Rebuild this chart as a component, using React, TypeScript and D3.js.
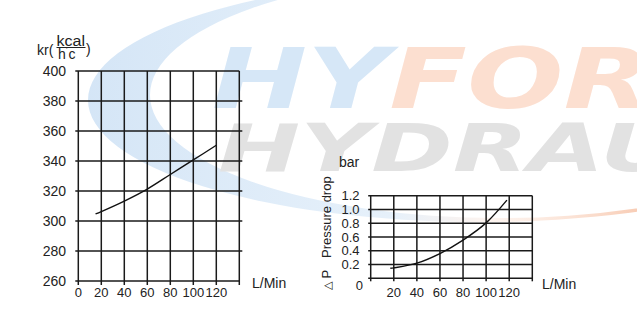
import React from "react";
import * as d3 from "d3";

// Left chart: heat dissipation coefficient kr vs flow
const krFlow = [15, 20, 40, 60, 80, 100, 120];
const krValue = [304.7, 306.3, 313.3, 321.3, 331, 340.7, 350.5];
const krXTicks = [0, 20, 40, 60, 80, 100, 120, 140];
const krXLabels = ["0", "20", "40", "60", "80", "100", "120"];
const krYTicks = [260, 280, 300, 320, 340, 360, 380, 400];

// Right chart: pressure drop vs flow
const dpFlow = [17, 20, 40, 60, 80, 100, 118];
const dpValue = [0.145, 0.152, 0.22, 0.36, 0.555, 0.805, 1.135];
const dpXTicks = [0, 20, 40, 60, 80, 100, 120, 140];
const dpXLabels = ["20", "40", "60", "80", "100", "120"];
const dpYTicks = [0, 0.2, 0.4, 0.6, 0.8, 1.0, 1.2];
const dpYLabels = ["0.2", "0.4", "0.6", "0.8", "1.0", "1.2"];

const FONT = "'Liberation Sans', Arial, Helvetica, sans-serif";
const INK = "#1a1a1a";

export default function App() {
  // left scales
  const x1 = d3.scaleLinear().domain([0, 140]).range([78.3, 239.3]);
  const y1 = d3.scaleLinear().domain([260, 400]).range([281, 71]);
  // right scales
  const x2 = d3.scaleLinear().domain([0, 140]).range([370.7, 532.3]);
  const y2 = d3.scaleLinear().domain([0, 1.2]).range([278.3, 195.7]);

  const line1 = d3
    .line<number>()
    .x((d, i) => x1(krFlow[i]))
    .y((d) => y1(d))
    .curve(d3.curveCatmullRom.alpha(0.5))(krValue);
  const line2 = d3
    .line<number>()
    .x((d, i) => x2(dpFlow[i]))
    .y((d) => y2(d))
    .curve(d3.curveCatmullRom.alpha(0.5))(dpValue);

  // watermark swoosh: outer ellipse minus inner ellipse
  const ell = (cx: number, cy: number, rx: number, ry: number) =>
    `M${cx - rx},${cy} a${rx},${ry} 0 1,0 ${2 * rx},0 a${rx},${ry} 0 1,0 ${-2 * rx},0 Z`;
  const swoosh = ell(480, 100, 392, 122) + " " + ell(500, 95, 350, 123);

  return (
    <svg
      width={637}
      height={333}
      style={{ position: "absolute", left: 0, top: 0, background: "#fff" }}
      fontFamily={FONT}
    >
      <defs>
        <linearGradient id="sw" x1="0" x2="637" y1="0" y2="0" gradientUnits="userSpaceOnUse">
          <stop offset="0" stopColor="#cfe2f5" />
          <stop offset="0.62" stopColor="#d6e7f7" stopOpacity="0.6" />
          <stop offset="0.78" stopColor="#fbe3d6" stopOpacity="0.4" />
          <stop offset="1" stopColor="#f8cdb6" />
        </linearGradient>
      </defs>

      {/* watermark */}
      <g>
        <path d={swoosh} fill="url(#sw)" fillRule="evenodd" />
        <text
          x={212}
          y={108}
          fontFamily="'DejaVu Sans', sans-serif"
          fontWeight="bold"
          fontStyle="italic"
          fontSize={84}
          textLength={600}
          lengthAdjust="spacingAndGlyphs"
        >
          <tspan fill="#d6e7f7">HY</tspan>
          <tspan fill="#fcdfd0">FORCE</tspan>
        </text>
        <text
          x={218}
          y={171}
          fill="#e2e2e2"
          fontFamily="'DejaVu Sans', sans-serif"
          fontWeight="bold"
          fontStyle="italic"
          fontSize={66}
          textLength={700}
          lengthAdjust="spacingAndGlyphs"
        >
          HYDRAULICS
        </text>
      </g>

      {/* ===== Left chart ===== */}
      <g stroke={INK} strokeWidth={1.5} fill="none">
        {krXTicks.map((t) => (
          <line key={"v" + t} x1={x1(t)} x2={x1(t)} y1={y1(400)} y2={y1(260) + 4} />
        ))}
        {krYTicks.map((t) => (
          <line
            key={"h" + t}
            x1={x1(0) - 3}
            x2={t === 260 || t === 400 ? x1(140) : x1(140) + 3}
            y1={y1(t)}
            y2={y1(t)}
          />
        ))}
      </g>
      <path d={line1 || ""} fill="none" stroke="#111" strokeWidth={1.4} />
      <g fontSize={14} fill="#222" textAnchor="end">
        {krYTicks.map((t) => (
          <text key={t} x={66} y={y1(t)} dy="0.35em">
            {t}
          </text>
        ))}
      </g>
      <g fontSize={13} fill="#222" textAnchor="middle">
        {krXLabels.map((l, i) => (
          <text key={l} x={x1(krXTicks[i])} y={297}>
            {l}
          </text>
        ))}
      </g>
      <text x={252} y={288} fontSize={14} fill="#222">
        L/Min
      </text>
      {/* unit label kr(kcal / h°c) */}
      <g fill="#222" fontSize={14}>
        <text x={37} y={55}>kr(</text>
        <text x={56.5} y={45.5} textLength={28.5} lengthAdjust="spacingAndGlyphs">
          kcal
        </text>
        <line x1={56.5} x2={85.5} y1={47.5} y2={47.5} stroke="#222" strokeWidth={1} />
        <text x={58} y={59}>
          h<tspan fontSize={8} dy={-5}>˙</tspan>
          <tspan dy={5}>c</tspan>
        </text>
        <text x={86} y={54}>)</text>
      </g>

      {/* ===== Right chart ===== */}
      <g stroke={INK} strokeWidth={1.5} fill="none">
        {dpXTicks.map((t) => (
          <line key={"v" + t} x1={x2(t)} x2={x2(t)} y1={y2(1.2)} y2={y2(0) + 3} />
        ))}
        {dpYTicks.map((t) => (
          <line key={"h" + t} x1={x2(0) - 2.5} x2={x2(140)} y1={y2(t)} y2={y2(t)} />
        ))}
      </g>
      <path d={line2 || ""} fill="none" stroke="#111" strokeWidth={1.4} />
      <g fontSize={13} fill="#222" textAnchor="end">
        {dpYLabels.map((l, i) => (
          <text key={l} x={359.5} y={y2(dpYTicks[i + 1])} dy="0.35em">
            {l}
          </text>
        ))}
        <text x={363} y={290}>
          0
        </text>
      </g>
      <g fontSize={13} fill="#222" textAnchor="middle">
        {dpXLabels.map((l, i) => (
          <text key={l} x={x2(dpXTicks[i + 1])} y={297}>
            {l}
          </text>
        ))}
      </g>
      <text x={542} y={289} fontSize={14} fill="#222">
        L/Min
      </text>
      <text x={339} y={167} fontSize={14} fill="#222">
        bar
      </text>
      <g fill="#222" transform="translate(331,0)">
        <text transform="translate(0,290) rotate(-90)" fontSize={13}>
          <tspan fontSize={11} fontFamily="'DejaVu Sans', sans-serif">△</tspan>
          <tspan dx={3}>P</tspan>
        </text>
        <text transform="translate(0,258) rotate(-90)" fontSize={13}>
          Pressure drop
        </text>
      </g>
    </svg>
  );
}
